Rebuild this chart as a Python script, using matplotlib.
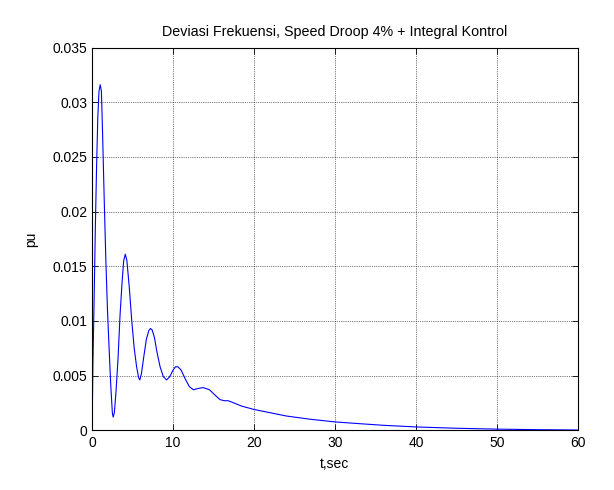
import matplotlib
matplotlib.use("Agg")
import matplotlib.pyplot as plt

# values
t = [0, 0.1, 0.25, 0.4, 0.55, 0.7, 0.85, 1.0, 1.15, 1.3, 1.5, 1.7, 1.9, 2.1, 2.3, 2.5, 2.6, 2.75,
     2.95, 3.2, 3.45, 3.7, 3.9, 4.1, 4.3, 4.6, 4.9, 5.2, 5.5, 5.75, 5.9, 6.1, 6.4, 6.7, 7.0, 7.2,
     7.4, 7.7, 8.0, 8.4, 8.8, 9.2, 9.6, 10.0, 10.3, 10.6, 11.0, 11.5, 12.0, 12.5, 13.0, 13.7, 14.5,
     15.2, 15.8, 16.3, 16.8, 17.5, 18.5, 20, 22, 24, 27, 30, 33, 36, 40, 45, 50, 55, 60]
pu = [0, 0.006, 0.012, 0.0185, 0.024, 0.0285, 0.031, 0.0316, 0.031, 0.027, 0.021, 0.0155, 0.011,
      0.0075, 0.0042, 0.0016, 0.0012, 0.0016, 0.0035, 0.0065, 0.0105, 0.0135, 0.0155, 0.0161,
      0.0155, 0.013, 0.010, 0.0075, 0.0058, 0.0048, 0.0046, 0.0052, 0.0068, 0.0083, 0.0091, 0.0093,
      0.0092, 0.0085, 0.0072, 0.0058, 0.0049, 0.0046, 0.0049, 0.0055, 0.0058, 0.0058, 0.0055,
      0.0047, 0.0040, 0.0037, 0.0038, 0.0039, 0.0037, 0.0032, 0.0028, 0.0027, 0.0027, 0.0025,
      0.0022, 0.0019, 0.0016, 0.0013, 0.001, 0.00076, 0.0006, 0.00045, 0.0003, 0.00018, 0.0001,
      0.00005, 0.00002]
xticks = [0, 10, 20, 30, 40, 50, 60]
yticks = [0, 0.005, 0.01, 0.015, 0.02, 0.025, 0.03, 0.035]
yticklabels = ["0", "0.005", "0.01", "0.015", "0.02", "0.025", "0.03", "0.035"]

plt.rcParams["font.family"] = ["Liberation Sans", "DejaVu Sans"]
plt.rcParams["font.size"] = 10

fig = plt.figure(figsize=(6.14, 4.9), dpi=100)
ax = fig.add_axes([0.150, 0.122, 0.791, 0.781])
ax.plot(t, pu, color="#0000ff", lw=0.8)
ax.set_xlim(0, 60)
ax.set_ylim(0, 0.035)
ax.set_xticks(xticks)
ax.set_yticks(yticks)
ax.set_yticklabels(yticklabels)
ax.tick_params(direction="in", length=4, width=0.6, top=True, right=True, colors="black",
               labelsize=10)
ax.tick_params(axis="y", pad=3.5)
ax.tick_params(axis="x", pad=4)
ax.grid(True, color="black", linestyle=":", linewidth=0.5)
for s in ax.spines.values():
    s.set_linewidth(0.8)
ax.set_title("Deviasi Frekuensi, Speed Droop 4% + Integral Kontrol", fontsize=10.3, pad=8)
ax.set_xlabel("t,sec", labelpad=5)
ax.set_ylabel("pu", labelpad=10)

fig.savefig("out.png", dpi=100)
